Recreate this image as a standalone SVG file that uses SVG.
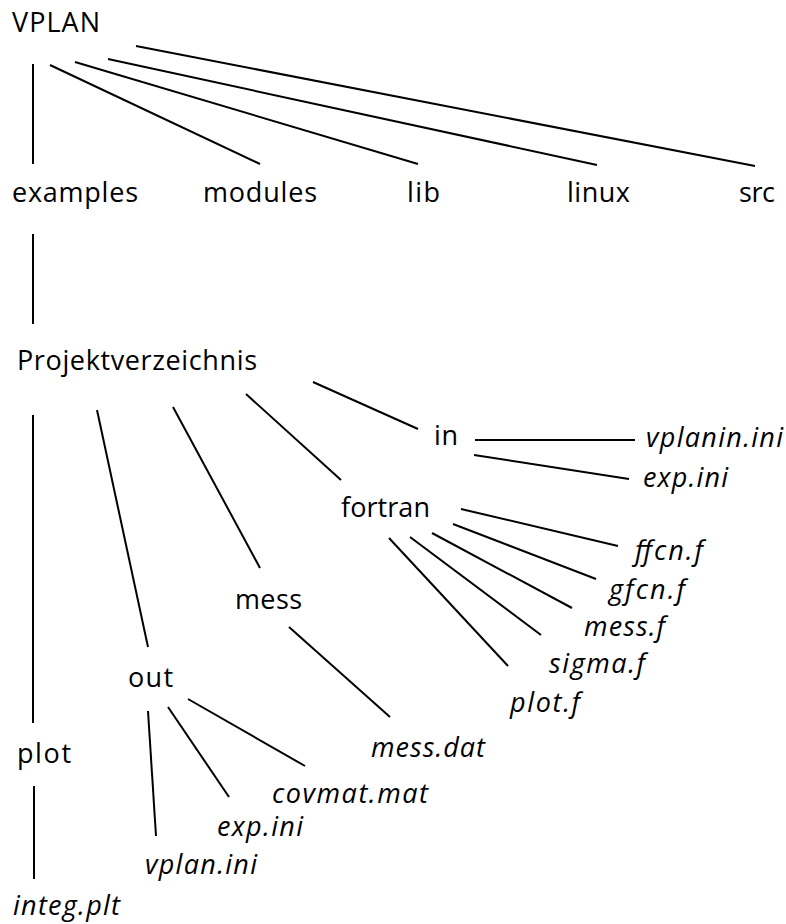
<svg xmlns="http://www.w3.org/2000/svg" width="786" height="924" viewBox="0 0 786 924">
<style>
text{font-family:"Open Sans","Liberation Sans",Arial,sans-serif;font-size:27px;fill:#000}
.f{font-style:italic}
#connectors line{stroke:#000;stroke-width:2;stroke-linecap:butt}
</style>
<rect width="786" height="924" fill="#fff"/>
<g id="connectors">
<line x1="33" y1="64" x2="33" y2="164"/>
<line x1="50" y1="65" x2="260" y2="164"/>
<line x1="75" y1="62" x2="418" y2="164"/>
<line x1="108" y1="59" x2="597" y2="165"/>
<line x1="136" y1="46" x2="755" y2="166"/>
<line x1="33" y1="234" x2="33" y2="324"/>
<line x1="33" y1="415" x2="33" y2="723"/>
<line x1="97" y1="410" x2="148" y2="647"/>
<line x1="173" y1="407" x2="260" y2="568"/>
<line x1="246" y1="394" x2="341" y2="480"/>
<line x1="313" y1="382" x2="418" y2="429"/>
<line x1="475" y1="440" x2="635" y2="440"/>
<line x1="474" y1="455" x2="629" y2="479"/>
<line x1="461" y1="509" x2="618" y2="546"/>
<line x1="453" y1="524" x2="596" y2="579"/>
<line x1="432" y1="533" x2="572" y2="608"/>
<line x1="410" y1="537" x2="541" y2="635"/>
<line x1="389" y1="538" x2="508" y2="666"/>
<line x1="289" y1="627" x2="390" y2="717"/>
<line x1="148" y1="711" x2="156" y2="836"/>
<line x1="168" y1="707" x2="229" y2="797"/>
<line x1="188" y1="699" x2="305" y2="766"/>
<line x1="34" y1="786" x2="34" y2="879"/>
</g>
<g id="n-vplan"><text x="12" y="32" textLength="88">VPLAN</text></g>
<g id="n-examples"><text x="12" y="202" textLength="126">examples</text></g>
<g id="n-modules"><text x="203" y="202" textLength="114">modules</text></g>
<g id="n-lib"><text x="407" y="202" textLength="33">lib</text></g>
<g id="n-linux"><text x="567" y="202" textLength="63">linux</text></g>
<g id="n-src"><text x="739" y="202" textLength="36">src</text></g>
<g id="n-projekt"><text x="17" y="370" textLength="240">Projektverzeichnis</text></g>
<g id="n-in"><text x="434" y="445" textLength="24">in</text></g>
<g id="n-vplanin"><text class="f" x="646" y="447" textLength="137">vplanin.ini</text></g>
<g id="n-expini1"><text class="f" x="643" y="487" textLength="85">exp.ini</text></g>
<g id="n-fortran"><text x="341" y="517" textLength="89">fortran</text></g>
<g id="n-ffcn"><text class="f" x="635" y="560" textLength="68">ffcn.f</text></g>
<g id="n-gfcn"><text class="f" x="609" y="599" textLength="76">gfcn.f</text></g>
<g id="n-messf"><text class="f" x="584" y="636" textLength="81">mess.f</text></g>
<g id="n-sigma"><text class="f" x="549" y="673" textLength="96">sigma.f</text></g>
<g id="n-plotf"><text class="f" x="510" y="712" textLength="70">plot.f</text></g>
<g id="n-mess"><text x="235" y="609" textLength="67">mess</text></g>
<g id="n-messdat"><text class="f" x="371" y="757" textLength="114">mess.dat</text></g>
<g id="n-out"><text x="128" y="687" textLength="45">out</text></g>
<g id="n-covmat"><text class="f" x="272" y="803" textLength="156">covmat.mat</text></g>
<g id="n-expini2"><text class="f" x="217" y="836" textLength="86">exp.ini</text></g>
<g id="n-vplanini"><text class="f" x="145" y="874" textLength="112">vplan.ini</text></g>
<g id="n-plot"><text x="17" y="763" textLength="54">plot</text></g>
<g id="n-integ"><text class="f" x="13" y="915" textLength="107">integ.plt</text></g>
</svg>
